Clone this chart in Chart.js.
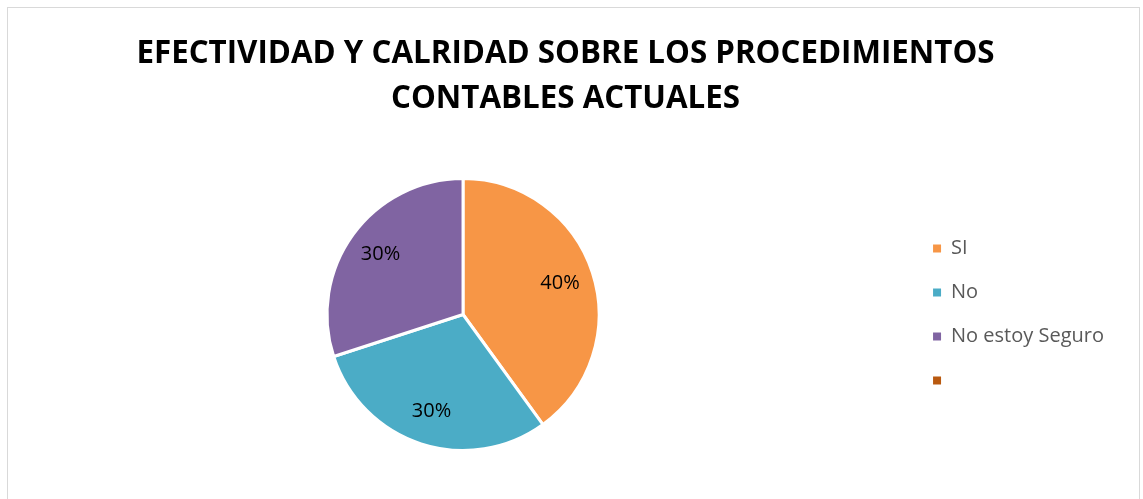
<!DOCTYPE html>
<html>
<head>
<meta charset="utf-8">
<script src="https://cdn.jsdelivr.net/npm/chart.js@4/dist/chart.umd.min.js"></script>
<style>
  html, body { margin: 0; padding: 0; background: #fff; }
  #frame {
    position: absolute; left: 7px; top: 7px;
    width: 1133px; height: 520px;
    border: 1.5px solid #d9d9d9; box-sizing: border-box;
  }
  #wrap { position: absolute; left: 0; top: 0; width: 1143px; height: 499px; }
</style>
</head>
<body>
<div id="frame"></div>
<div id="wrap"><canvas id="pieChart"></canvas></div>
<script>
// ---------------- Data ----------------
const titleLines = ["EFECTIVIDAD Y CALRIDAD SOBRE LOS PROCEDIMIENTOS", "CONTABLES ACTUALES"];
const categories = ["SI", "No", "No estoy Seguro", ""];
const percentages = [40, 30, 30, 0];
const sliceColors = ["#F79646", "#4BACC6", "#8064A2", "#B9590F"];

// ---------------- Percent labels inside slices ----------------
const sliceLabels = {
  id: "sliceLabels",
  afterDatasetsDraw(chart) {
    const ctx = chart.ctx;
    const meta = chart.getDatasetMeta(0);
    ctx.save();
    ctx.font = "20px 'Open Sans'";
    ctx.fillStyle = "#000";
    ctx.textAlign = "center";
    ctx.textBaseline = "middle";
    meta.data.forEach((arc, i) => {
      const v = percentages[i];
      if (!v) return;
      const p = arc.getProps(["x", "y", "startAngle", "endAngle", "outerRadius"], true);
      const mid = (p.startAngle + p.endAngle) / 2;
      const r = p.outerRadius * 0.75;
      ctx.fillText(v + "%", p.x + Math.cos(mid) * r, p.y + Math.sin(mid) * r);
    });
    ctx.restore();
  }
};

// ---------------- Chart ----------------
const ctx = document.getElementById("pieChart").getContext("2d");
new Chart(ctx, {
  type: "pie",
  data: {
    labels: categories,
    datasets: [{
      data: percentages,
      backgroundColor: sliceColors,
      borderColor: "#fff",
      borderWidth: 3
    }]
  },
  options: {
    responsive: true,
    maintainAspectRatio: false,
    animation: false,
    layout: { padding: { top: 32, left: 17, right: 29, bottom: 47 } },
    plugins: {
      title: {
        display: true,
        text: titleLines,
        color: "#000",
        font: { family: "'Open Sans'", size: 31.3, weight: "bold", lineHeight: 45 / 31.3 },
        padding: { top: 0, bottom: 55 }
      },
      legend: {
        position: "right",
        fullSize: false,
        labels: {
          boxWidth: 8,
          boxHeight: 8,
          padding: 24,
          color: "#595959",
          font: { family: "'Open Sans'", size: 20 },
          // no white outline round the little squares
          generateLabels: (chart) =>
            Chart.overrides.pie.plugins.legend.labels.generateLabels(chart)
              .map(item => ({ ...item, lineWidth: 0 }))
        }
      },
      tooltip: { enabled: false }
    }
  },
  plugins: [sliceLabels]
});
</script>
</body>
</html>
